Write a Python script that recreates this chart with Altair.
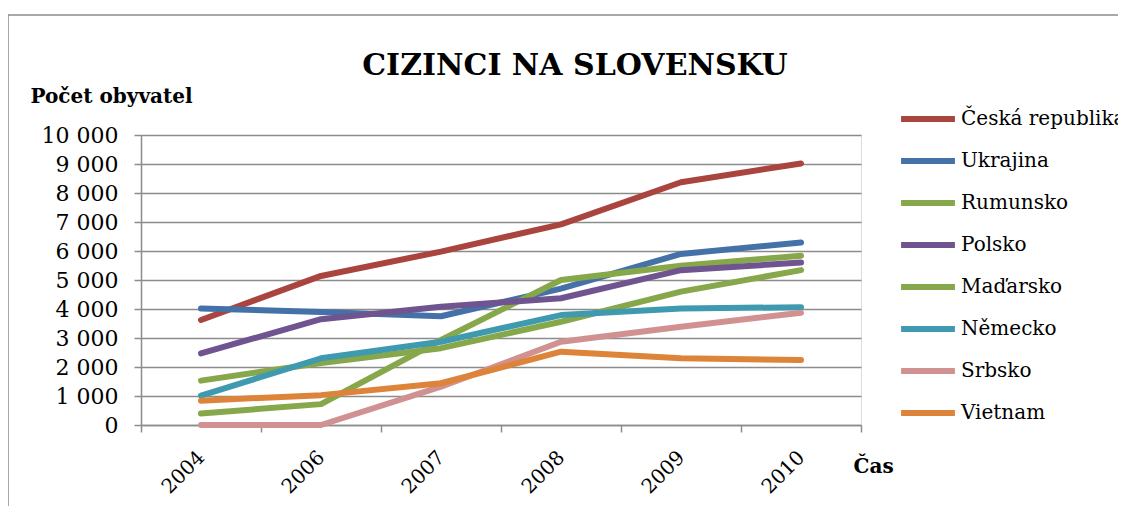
import altair as alt
import pandas as pd

years = ["2004", "2006", "2007", "2008", "2009", "2010"]
series = ["Česká republika", "Ukrajina", "Rumunsko", "Polsko", "Maďarsko", "Německo", "Srbsko", "Vietnam"]
colors = ["#A9443F", "#4471A8", "#86A84A", "#6F5490", "#86A84A", "#3F9AB0", "#D19191", "#DD843A"]

cz = [3620, 5140, 5980, 6920, 8370, 9020]
ua = [4020, 3900, 3750, 4700, 5900, 6290]
ro = [400, 720, 2930, 5000, 5490, 5840]
pl = [2470, 3650, 4080, 4370, 5340, 5600]
hu = [1530, 2140, 2650, 3560, 4600, 5340]
de = [1010, 2300, 2870, 3790, 4020, 4060]
rs = [0, 0, 1320, 2870, 3390, 3870]
vn = [840, 1030, 1440, 2530, 2300, 2240]

values = [cz, ua, ro, pl, hu, de, rs, vn]

rows = []
for i, (name, vals) in enumerate(zip(series, values)):
    for y, v in zip(years, vals):
        rows.append({"Rok": y, "Stát": name, "Počet": v, "ord": i})
df = pd.DataFrame(rows)

FONT = "DejaVu Serif"
GRID = "#8C8C8C"

W, H = 720, 290

lines = alt.Chart(df).mark_line(strokeWidth=6, strokeCap="round", strokeJoin="round").encode(
    x=alt.X("Rok:O", sort=years, scale=alt.Scale(paddingInner=0, paddingOuter=0),
            axis=alt.Axis(title="Čas", titleFont=FONT, titleFontSize=20, titleFontWeight="bold",
                          titleX=712, titleY=47, titleAlign="left", titleBaseline="alphabetic",
                          titleColor="black",
                          labelFont=FONT, labelFontSize=20, labelAngle=-45, labelAlign="right",
                          labelBaseline="middle", labelPadding=22, labelColor="black",
                          tickBand="extent", tickSize=7, tickColor=GRID, tickWidth=1.5,
                          domainColor=GRID, domainWidth=1.5, grid=False)),
    y=alt.Y("Počet:Q", scale=alt.Scale(domain=[0, 10000]),
            axis=alt.Axis(title="Počet obyvatel", titleFont=FONT, titleFontSize=20, titleFontWeight="bold",
                          titleAngle=0, titleX=-111, titleY=-33, titleAlign="left",
                          titleBaseline="alphabetic", titleColor="black",
                          values=list(range(0, 10001, 1000)),
                          labelExpr="replace(format(datum.value, ',d'), ',', ' ')",
                          labelFont=FONT, labelFontSize=22, labelColor="black", labelPadding=16,
                          tickSize=7, tickColor=GRID, tickWidth=1.5,
                          domainColor=GRID, domainWidth=1.5,
                          gridColor=GRID, gridWidth=1.5)),
    color=alt.Color("Stát:N", scale=alt.Scale(domain=series, range=colors),
                    legend=alt.Legend(title=None, orient="none", legendX=757, legendY=-46,
                                      symbolType="stroke", symbolStrokeWidth=6, symbolSize=2900,
                                      labelFont=FONT, labelFontSize=20, labelColor="black",
                                      labelOffset=3, rowPadding=-11, labelLimit=300)),
    order=alt.Order("ord:Q"),
    detail="Stát:N",
)

title = alt.Chart(pd.DataFrame({"t": ["CIZINCI NA SLOVENSKU"]})).mark_text(
    font=FONT, fontSize=30, fontWeight="bold", align="center", baseline="alphabetic", color="black"
).encode(text="t:N", x=alt.value(434), y=alt.value(-60))

frame = alt.Chart(pd.DataFrame({"a": [0]})).mark_rect(
    fill=None, stroke="#8C8C8C", strokeWidth=1.5
).encode(x=alt.value(-133), x2=alt.value(1300), y=alt.value(-120), y2=alt.value(600))

chart = alt.layer(frame, lines, title).properties(
    width=W, height=H,
    padding={"left": 133, "top": 127, "right": 257, "bottom": 81},
    autosize=alt.AutoSizeParams(type="none"),
).configure_view(stroke=None).configure(background="white")

chart.save("out.html", embed_options={"renderer": "svg", "actions": False})
